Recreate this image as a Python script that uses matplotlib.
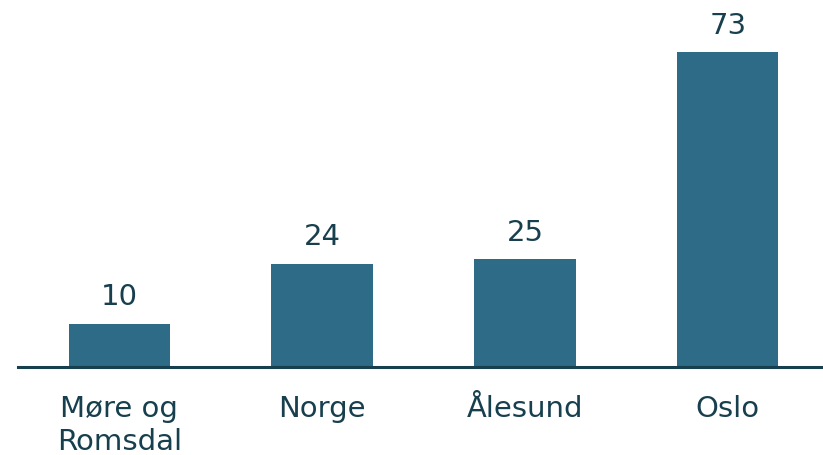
import matplotlib.pyplot as plt

categories = ["Møre og\nRomsdal", "Norge", "Ålesund", "Oslo"]
values = [10, 24, 25, 73]

bar_color = "#2E6B87"
text_color = "#173F4E"

fig = plt.figure(figsize=(8.23, 4.55), dpi=100)
ax = fig.add_axes([18 / 823, 88 / 455, 805 / 823, 345 / 455])

x = range(len(values))
bars = ax.bar(x, values, width=0.5, color=bar_color)

for b, v in zip(bars, values):
    ax.annotate(str(v), (b.get_x() + b.get_width() / 2, v), xytext=(0, 9),
                textcoords="offset points", ha="center", va="bottom",
                fontsize=21, color=text_color)

ax.set_xlim(-0.5, 3.47)
ax.set_ylim(0, 80)
ax.set_xticks(list(x))
ax.set_xticklabels(categories, fontsize=21, color=text_color, linespacing=1.25)
ax.tick_params(axis="x", length=0, pad=20)
ax.set_yticks([])

for s in ["top", "right", "left"]:
    ax.spines[s].set_visible(False)
ax.spines["bottom"].set_color(text_color)
ax.spines["bottom"].set_linewidth(2.2)

fig.savefig("out.png", dpi=100)
